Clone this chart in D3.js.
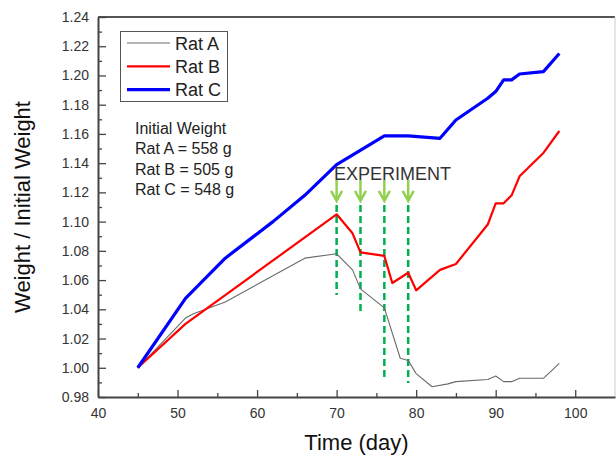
<!DOCTYPE html>
<html>
<head>
<meta charset="utf-8">
<script src="https://cdn.jsdelivr.net/npm/d3@7"></script>
<style>
  body { margin: 0; background: #fff; }
  svg { font-family: Arial, "Liberation Sans", sans-serif; }
</style>
</head>
<body>
<div id="chart"></div>
<script>
// data
var ratADays = [45, 51, 52, 56, 66, 70, 72, 73, 76, 78, 79, 80, 82, 84, 85, 89, 90, 91, 92, 93, 96, 98];
var ratA = [1.000, 1.034, 1.037, 1.045, 1.075, 1.078, 1.067, 1.054, 1.041, 1.0065, 1.005, 0.996, 0.987, 0.989, 0.9905, 0.992, 0.9944, 0.9905, 0.9905, 0.9928, 0.9928, 1.003];

var ratBDays = [45, 51, 70, 72, 73, 76, 77, 79, 80, 83, 85, 89, 90, 91, 92, 93, 96, 98];
var ratB = [1.000, 1.030, 1.105, 1.092, 1.079, 1.0765, 1.058, 1.065, 1.053, 1.067, 1.071, 1.098, 1.1125, 1.1125, 1.118, 1.131, 1.147, 1.162];

var ratCDays = [45, 51, 56, 62, 66, 70, 76, 79, 83, 85, 89, 90, 91, 92, 93, 96, 98];
var ratC = [1.000, 1.0475, 1.075, 1.100, 1.118, 1.139, 1.1586, 1.1586, 1.157, 1.1695, 1.1844, 1.189, 1.197, 1.197, 1.201, 1.2026, 1.215];

var seriesNames = ["Rat A", "Rat B", "Rat C"];
var initialWeights = ["Rat A = 558 g", "Rat B = 505 g", "Rat C = 548 g"];

var experimentDays = [70, 73, 76, 79];
var dashEnds = [1.0498, 1.0388, 0.991, 0.9896];

var xTicks = [40, 50, 60, 70, 80, 90, 100];
var yTicks = d3.range(0, 14).map(function (i) { return +(0.98 + i * 0.02).toFixed(2); });

var width = 616, height = 455;
var margin = {top: 17, right: 1, bottom: 58, left: 98};

var svg = d3.select("#chart")
  .append("svg")
    .attr("width", width)
    .attr("height", height);

var x = d3.scaleLinear()
  .domain([40, 105])
  .range([margin.left, width - margin.right]);

var y = d3.scaleLinear()
  .domain([0.98, 1.24])
  .range([height - margin.bottom, margin.top]);

var axisColor = "#444";
var textColor = "#333";

// frame: top and right
svg.append("line")
  .attr("x1", x(40)).attr("x2", x(105))
  .attr("y1", y(1.24)).attr("y2", y(1.24))
  .attr("stroke", "#555").attr("stroke-width", 2);
svg.append("line")
  .attr("x1", x(105)).attr("x2", x(105))
  .attr("y1", y(1.24)).attr("y2", y(0.98))
  .attr("stroke", "#ccc").attr("stroke-width", 1);

// x axis, ticks pointing in
var gx = svg.append("g")
  .attr("transform", "translate(0," + y(0.98) + ")")
  .call(d3.axisBottom(x).tickValues(xTicks).tickSize(-7).tickPadding(11).tickSizeOuter(0));
svg.append("g")
  .attr("transform", "translate(0," + y(0.98) + ")")
  .call(d3.axisBottom(x).tickValues(d3.range(45, 105, 10)).tickSize(-4).tickFormat("").tickSizeOuter(0))
  .select(".domain").remove();

// y axis
var gy = svg.append("g")
  .attr("transform", "translate(" + x(40) + ",0)")
  .call(d3.axisLeft(y).tickValues(yTicks).tickFormat(d3.format(".2f")).tickSize(-8).tickPadding(9).tickSizeOuter(0));
svg.append("g")
  .attr("transform", "translate(" + x(40) + ",0)")
  .call(d3.axisLeft(y).tickValues(d3.range(0, 13).map(function (i) { return 0.99 + i * 0.02; })).tickSize(-4).tickFormat("").tickSizeOuter(0))
  .select(".domain").remove();

svg.selectAll(".domain").attr("stroke", axisColor).attr("stroke-width", 2);
svg.selectAll(".tick line").attr("stroke", axisColor).attr("stroke-width", 1.3);
svg.selectAll(".tick text")
  .attr("fill", textColor)
  .style("font-size", "14px")
  .style("font-family", "Arial, 'Liberation Sans', sans-serif");

// axis titles
svg.append("text")
  .attr("x", (x(40) + x(105)) / 2)
  .attr("y", 450)
  .attr("text-anchor", "middle")
  .attr("fill", "#111")
  .style("font-size", "22px")
  .text("Time (day)");

svg.append("text")
  .attr("transform", "translate(30," + ((y(0.98) + y(1.24)) / 2) + ") rotate(-90)")
  .attr("text-anchor", "middle")
  .attr("fill", "#111")
  .style("font-size", "22px")
  .text("Weight / Initial Weight");

// experiment markers
svg.selectAll(".exp-dash")
  .data(experimentDays)
  .enter()
  .append("line")
    .attr("x1", function (d) { return x(d); })
    .attr("x2", function (d) { return x(d); })
    .attr("y1", y(1.1114))
    .attr("y2", function (d, i) { return y(dashEnds[i]); })
    .attr("stroke", "#00b050")
    .attr("stroke-width", 2.5)
    .attr("stroke-dasharray", "7,4");

var arrows = svg.selectAll(".exp-arrow")
  .data(experimentDays)
  .enter()
  .append("g")
    .attr("transform", function (d) { return "translate(" + x(d) + "," + y(1.1285) + ")"; });
arrows.append("line")
  .attr("x1", 0).attr("x2", 0).attr("y1", 0).attr("y2", 21)
  .attr("stroke", "#92d050").attr("stroke-width", 2.5);
arrows.append("path")
  .attr("d", "M-5.5,11 L0,21 L5.5,11")
  .attr("fill", "none")
  .attr("stroke", "#92d050").attr("stroke-width", 2.5)
  .attr("stroke-linejoin", "miter");

svg.append("text")
  .attr("x", 334)
  .attr("y", 180)
  .attr("fill", "#333")
  .style("font-size", "18px")
  .text("EXPERIMENT");

// lines
var line = d3.line()
  .x(function (d) { return x(d[0]); })
  .y(function (d) { return y(d[1]); });

var series = [
  {days: ratADays, vals: ratA, color: "#6a6a6a", w: 1.1},
  {days: ratBDays, vals: ratB, color: "#ff0000", w: 2.2},
  {days: ratCDays, vals: ratC, color: "#0000ff", w: 3.2}
];

series.forEach(function (s) {
  svg.append("path")
    .datum(d3.zip(s.days, s.vals))
    .attr("fill", "none")
    .attr("stroke", s.color)
    .attr("stroke-width", s.w)
    .attr("stroke-linejoin", "round")
    .attr("d", line);
});

// legend
var legend = svg.append("g");
legend.append("rect")
  .attr("x", 120.5).attr("y", 31.5)
  .attr("width", 107).attr("height", 70)
  .attr("fill", "#fff")
  .attr("stroke", "#555")
  .attr("stroke-width", 1);

var legendRows = legend.selectAll(".row")
  .data(series)
  .enter()
  .append("g")
    .attr("transform", function (d, i) { return "translate(0," + (43 + i * 23.3) + ")"; });
legendRows.append("line")
  .attr("x1", 127).attr("x2", 170)
  .attr("stroke", function (d) { return d.color; })
  .attr("stroke-width", function (d) { return d.w; });
legendRows.append("text")
  .attr("x", 175)
  .attr("y", 6.5)
  .attr("fill", "#222")
  .style("font-size", "18px")
  .text(function (d, i) { return seriesNames[i]; });

// initial weight note
var note = svg.append("text")
  .attr("x", 135)
  .attr("fill", "#222")
  .style("font-size", "16px");
["Initial Weight"].concat(initialWeights).forEach(function (t, i) {
  note.append("tspan")
    .attr("x", 135)
    .attr("y", 134 + i * 20.3)
    .text(t);
});
</script>
</body>
</html>
